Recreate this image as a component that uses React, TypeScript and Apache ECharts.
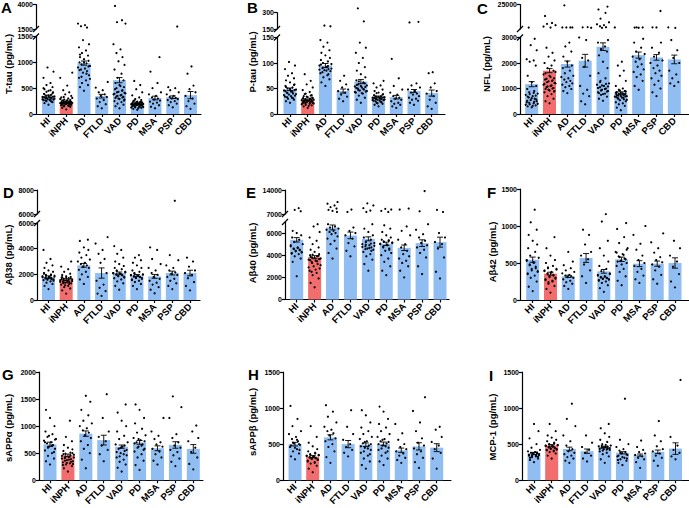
import { useEffect, useRef } from "react";
import * as echarts from "echarts";

const categories = ["HI", "iNPH", "AD", "FTLD", "VAD", "PD", "MSA", "PSP", "CBD"];

// ---------- A: T-tau ----------
const tTauMeans = [345, 225, 985, 345, 655, 215, 310, 325, 365];
const tTauSem = [20, 12, 40, 35, 50, 12, 35, 25, 70];
const tTauPoints = [
  [180, 210, 230, 250, 260, 270, 280, 290, 300, 310, 320, 330, 340, 350, 370, 390, 420, 450, 480, 520, 560, 600, 700, 820, 900, 240, 260, 275, 285, 295, 305, 315, 325, 335, 360, 380, 400, 430, 460, 500],
  [90, 120, 140, 150, 160, 170, 180, 190, 195, 200, 205, 210, 215, 220, 225, 230, 240, 250, 260, 270, 280, 300, 320, 350, 380, 420, 460, 550, 700, 800, 155, 165, 175, 185, 198, 202, 208, 212, 218, 222, 228, 235, 245, 255, 265, 290, 310, 330],
  [450, 520, 560, 600, 650, 700, 750, 800, 830, 860, 880, 900, 930, 960, 980, 1000, 1030, 1060, 1100, 1130, 1180, 1230, 1290, 1350, 1430, 1650, 1780, 1900, 2050, 680, 720, 780, 850, 920, 1000, 1150],
  [110, 150, 190, 230, 270, 300, 330, 350, 380, 420, 460, 510, 620],
  [110, 150, 180, 200, 230, 250, 280, 300, 320, 340, 360, 380, 400, 420, 450, 480, 520, 560, 600, 650, 700, 780, 860, 950, 1020, 1100, 1180, 1250, 1350, 2050, 2200, 2400, 3850, 260, 290, 310, 330, 350, 370, 390, 410, 430, 460, 500, 540],
  [80, 100, 120, 130, 140, 150, 160, 170, 175, 180, 185, 190, 195, 200, 210, 220, 230, 240, 250, 270, 290, 320, 360, 420, 480, 560, 640, 110, 125, 135, 145, 155, 165, 172, 178, 182, 188, 192, 198, 205, 215, 225, 235, 260],
  [110, 140, 170, 200, 220, 240, 260, 280, 300, 320, 350, 380, 420, 500, 600, 820, 1100],
  [130, 170, 200, 230, 250, 270, 290, 300, 310, 330, 350, 380, 420, 460, 500, 520, 1750],
  [100, 150, 200, 250, 300, 350, 420, 480, 550, 780, 920],
];
const tTauLowerTicks = [0, 500, 1000, 1500];
const tTauUpperTicks = [1500, 4000];

// ---------- B: P-tau ----------
const pTauMeans = [48.5, 28, 95, 45, 63.5, 34, 33, 45, 41];
const pTauSem = [2.5, 1.5, 4, 4, 4, 1.2, 3.5, 3, 6];
const pTauPoints = [
  [22, 25, 28, 30, 32, 34, 36, 38, 40, 42, 44, 46, 48, 50, 52, 55, 58, 62, 66, 70, 75, 80, 88, 95, 102, 31, 33, 35, 37, 39, 41, 43, 45, 47, 49, 53, 57],
  [12, 15, 17, 18, 20, 21, 22, 23, 24, 25, 26, 27, 28, 29, 30, 31, 32, 33, 35, 37, 40, 43, 47, 52, 58, 65, 78, 16, 19, 20.5, 21.5, 22.5, 23.5, 24.5, 25.5, 26.5, 27.5, 28.5, 29.5, 30.5, 31.5, 34, 36, 39],
  [55, 62, 68, 72, 76, 80, 84, 86, 88, 90, 92, 95, 98, 100, 103, 106, 110, 115, 120, 125, 132, 140, 145, 175, 182, 78, 82, 85, 87, 89, 91, 94, 97],
  [25, 30, 34, 38, 42, 45, 48, 52, 58, 65, 75],
  [22, 28, 32, 36, 40, 42, 44, 46, 48, 50, 52, 54, 56, 58, 62, 66, 72, 78, 85, 92, 100, 110, 120, 130, 140, 220, 340, 41, 43, 45, 47, 49, 51, 53, 55, 57, 60, 64],
  [15, 18, 20, 22, 24, 26, 27, 28, 29, 30, 31, 32, 33, 34, 35, 37, 39, 42, 45, 48, 52, 56, 60, 65, 21, 23, 25, 26.5, 27.5, 28.5, 29.5, 30.5, 31.5, 32.5, 33.5, 36, 38, 41],
  [12, 15, 18, 20, 22, 25, 28, 30, 32, 35, 38, 42, 48, 55, 70, 108],
  [18, 22, 26, 28, 30, 32, 35, 38, 40, 42, 45, 48, 52, 56, 60, 210, 216],
  [10, 15, 22, 28, 35, 40, 45, 52, 60, 80, 82],
];
const pTauLowerTicks = [0, 50, 100, 150];
const pTauUpperTicks = [150, 300];

// ---------- C: NFL ----------
const nflMeans = [1170, 1700, 1960, 2090, 2640, 820, 2310, 2220, 2140];
const nflSem = [100, 80, 120, 250, 150, 50, 120, 110, 170];
const nflPoints = [
  [260, 300, 340, 380, 420, 460, 500, 550, 600, 650, 700, 750, 800, 850, 900, 980, 1100, 1250, 1500, 1900, 2050, 2100, 2150, 2500, 2700, 2950, 4300, 320, 360, 400, 440, 480, 520, 570, 620, 680, 720, 780, 830],
  [420, 500, 600, 700, 780, 850, 900, 950, 1000, 1050, 1100, 1150, 1200, 1250, 1300, 1350, 1400, 1500, 1600, 1700, 1800, 1900, 2000, 2100, 2250, 2400, 2600, 4300, 5200, 6400, 7600, 8400, 14700, 880, 920, 980, 1020, 1080, 1120, 1180, 1220, 1280, 1320, 1380, 1450, 1550, 1650],
  [820, 900, 980, 1050, 1100, 1150, 1200, 1250, 1300, 1350, 1400, 1450, 1500, 1600, 1700, 1800, 1900, 2050, 2250, 2450, 2650, 2800, 4400, 4400, 4400, 4400, 24200],
  [380, 500, 700, 800, 950, 1100, 1500, 1850, 2100, 2200, 2900, 3000, 4100, 4500, 4700],
  [520, 600, 680, 750, 800, 850, 900, 950, 1000, 1050, 1100, 1150, 1200, 1300, 1400, 1600, 1800, 2050, 2300, 2450, 2550, 2650, 2800, 2900, 4100, 4600, 5400, 6500, 7200, 9000, 12300, 17500, 20500, 23100, 780, 820, 880, 920, 980, 1020, 1080, 1120, 1180, 1250],
  [150, 250, 320, 380, 420, 460, 500, 540, 580, 620, 650, 680, 700, 720, 750, 780, 800, 830, 860, 900, 950, 1000, 1100, 1300, 1500, 1700, 1900, 2050, 4400, 560, 600, 640, 660, 690, 710, 730, 760, 790, 810, 840, 880, 920],
  [950, 1100, 1300, 1450, 1550, 1650, 1750, 1850, 1950, 2050, 2150, 2250, 2350, 2450, 2600, 2800, 2950, 4100, 4300, 4400, 4500],
  [700, 850, 1000, 1150, 1300, 1400, 1500, 1600, 1700, 1800, 1900, 2000, 2100, 2250, 2400, 2600, 2800, 4400, 4500, 19200],
  [1100, 1200, 1250, 1400, 1550, 1700, 2000, 2200, 2500, 2900, 4000, 4500],
];
const nflLowerTicks = [0, 1000, 2000, 3000];
const nflUpperTicks = [25000];

// ---------- D: Abeta38 ----------
const ab38Means = [1790, 1580, 2700, 2100, 2100, 1920, 1840, 2100, 2100];
const ab38Sem = [90, 60, 150, 400, 80, 70, 150, 150, 220];
const ab38Points = [
  [850, 1100, 1250, 1350, 1450, 1550, 1600, 1650, 1700, 1750, 1800, 1850, 1900, 1950, 2000, 2100, 2200, 2300, 2500, 2700, 2900, 3200, 3900, 1500, 1580, 1620, 1680, 1720, 1780, 1820, 1880, 1920, 2050],
  [500, 750, 900, 1000, 1100, 1200, 1300, 1350, 1400, 1450, 1500, 1550, 1600, 1650, 1700, 1750, 1800, 1850, 1950, 2050, 2200, 2400, 2600, 3000, 1150, 1250, 1320, 1380, 1420, 1480, 1520, 1580, 1620, 1680, 1720, 1780],
  [1250, 1600, 1800, 2000, 2200, 2350, 2500, 2600, 2700, 2800, 2900, 3000, 3150, 3300, 3500, 3700, 3900, 4100, 4600, 4700],
  [320, 500, 700, 950, 1200, 1500, 2100, 2900, 3200, 3600, 3900, 4400, 4900],
  [800, 1100, 1300, 1450, 1600, 1700, 1800, 1900, 1950, 2000, 2050, 2100, 2200, 2300, 2400, 2500, 2650, 2800, 3000, 3300, 3600, 3900, 4200, 1750, 1850, 1920, 1980, 2020, 2080, 2150, 2250],
  [850, 1100, 1250, 1400, 1500, 1600, 1700, 1750, 1800, 1850, 1900, 1950, 2000, 2100, 2200, 2300, 2500, 2700, 2900, 3100, 3300, 3500, 1550, 1650, 1720, 1780, 1820, 1880, 1920, 1980, 2050],
  [520, 800, 1000, 1200, 1350, 1500, 1650, 1800, 1950, 2100, 2300, 2500, 2800, 3200, 3900, 4100],
  [850, 1100, 1300, 1500, 1650, 1800, 1950, 2050, 2150, 2300, 2500, 2700, 3100, 3500, 7100],
  [750, 1100, 1400, 1700, 1950, 2100, 2300, 2600, 3000, 3300],
];
const ab38LowerTicks = [0, 2000, 4000, 6000];
const ab38UpperTicks = [6000, 8000];

// ---------- E: Abeta40 ----------
const ab40Means = [5390, 3820, 6510, 5790, 5480, 5030, 4670, 5090, 5180];
const ab40Sem = [200, 140, 220, 300, 180, 150, 250, 300, 450];
const ab40Points = [
  [2100, 3400, 3700, 3900, 4100, 4200, 4300, 4400, 4500, 4600, 4700, 4800, 5000, 5200, 5400, 5600, 5800, 6000, 6200, 7800, 8200, 8700, 4150, 4250, 4350, 4450, 4550, 4650, 4900],
  [1100, 1500, 1900, 2200, 2400, 2600, 2800, 3000, 3200, 3400, 3500, 3600, 3700, 3800, 3900, 4000, 4100, 4300, 4500, 4700, 5000, 5300, 5600, 6100, 6600, 6800, 2500, 2700, 2900, 3100, 3300, 3450, 3550, 3650, 3750, 3850, 3950, 4050],
  [3700, 4200, 4600, 5000, 5300, 5500, 5700, 5900, 6000, 6100, 6200, 6300, 6400, 6500, 6600, 6800, 7600, 7900, 8200, 8600, 9000, 9500, 10000, 10500],
  [3900, 4400, 4800, 5100, 5500, 5800, 6000, 6200, 6500, 7600, 8300],
  [2600, 3200, 3600, 3900, 4100, 4300, 4500, 4600, 4700, 4800, 4900, 5000, 5100, 5200, 5400, 5600, 5800, 6100, 6400, 6800, 7600, 8000, 8700, 9500, 10100, 4400, 4550, 4650, 4750, 4850, 4950, 5050],
  [2200, 2600, 3000, 3400, 3700, 4000, 4200, 4400, 4600, 4800, 4900, 5000, 5100, 5200, 5300, 5400, 5600, 5800, 6100, 6400, 6700, 7600, 7900, 8300, 8500, 4500, 4700, 4950, 5050, 5150, 5250, 5350],
  [2000, 2600, 3000, 3300, 3500, 3700, 3900, 4100, 4400, 4700, 5000, 5400, 5800, 6200, 6600, 8300, 8600],
  [2300, 3000, 3800, 4200, 4500, 4700, 4900, 5100, 5300, 5600, 5900, 6300, 6800, 7800, 13700],
  [1900, 2500, 3800, 4600, 5000, 5200, 5600, 6000, 7600, 8200],
];
const ab40LowerTicks = [0, 2000, 4000, 6000];
const ab40UpperTicks = [7000, 14000];

// ---------- F: Abeta42 ----------
const ab42Means = [545, 356, 320, 568, 387, 550, 491, 491, 500];
const ab42Sem = [35, 20, 15, 60, 25, 30, 40, 35, 70];
const ab42Points = [
  [120, 180, 250, 300, 330, 360, 390, 420, 450, 480, 510, 540, 570, 600, 650, 700, 750, 800, 880, 950, 1050, 1220, 350, 380, 400, 430, 470, 500, 530],
  [100, 150, 190, 220, 250, 270, 290, 310, 330, 350, 370, 390, 410, 430, 460, 500, 540, 600, 700, 850, 240, 260, 280, 300, 320, 340, 360, 380, 400, 420, 440],
  [150, 190, 220, 240, 260, 280, 300, 310, 320, 330, 340, 360, 380, 400, 430, 470, 520, 650],
  [230, 320, 400, 480, 550, 600, 650, 750, 880, 950],
  [110, 160, 200, 230, 250, 270, 280, 290, 300, 310, 320, 340, 360, 390, 420, 460, 520, 600, 700, 800, 1060, 1160, 260, 275, 285, 295, 305, 315, 330, 350],
  [200, 260, 320, 380, 420, 460, 500, 530, 560, 590, 620, 650, 700, 770, 850, 960, 1040, 480, 520, 550, 580, 610, 640, 680],
  [230, 280, 330, 380, 420, 460, 500, 540, 600, 680, 760, 880, 1000],
  [220, 280, 340, 400, 450, 480, 510, 540, 580, 640, 700, 780, 900],
  [170, 250, 350, 450, 520, 600, 700, 800],
];
const ab42Ticks = [0, 500, 1000, 1500];

// ---------- G: sAPPalpha ----------
const sappaMeans = [663, 458, 861, 741, 620, 699, 590, 651, 578];
const sappaSem = [40, 25, 50, 90, 30, 35, 45, 60, 80];
const sappaPoints = [
  [290, 350, 400, 450, 500, 550, 580, 620, 650, 680, 700, 730, 760, 800, 850, 900, 1000, 1150, 1300, 520, 600, 640, 700, 750, 820],
  [160, 220, 260, 290, 310, 330, 350, 370, 390, 410, 430, 450, 470, 490, 510, 540, 570, 600, 650, 720, 800, 1100, 280, 300, 320, 340, 360, 380, 400, 420, 440, 460, 480, 500],
  [220, 380, 500, 580, 650, 720, 780, 830, 880, 920, 960, 1000, 1050, 1100, 1200, 1300, 1450, 1560],
  [350, 480, 560, 640, 720, 800, 900, 1150, 1590],
  [160, 230, 290, 340, 380, 420, 460, 500, 540, 580, 620, 660, 700, 760, 820, 900, 1000, 1100, 1250, 1400, 440, 480, 520, 560, 600, 640],
  [190, 280, 360, 420, 480, 530, 580, 620, 660, 700, 740, 780, 830, 880, 950, 1050, 1150, 1300, 1400, 560, 600, 640, 680, 720, 760],
  [290, 360, 420, 480, 530, 580, 620, 660, 700, 760, 820, 900, 1150],
  [260, 340, 400, 460, 520, 560, 600, 640, 700, 780, 850, 1150, 1350, 1550],
  [200, 300, 420, 520, 600, 720, 780, 900, 1010],
];
const sappaTicks = [0, 500, 1000, 1500, 2000];

// ---------- H: sAPPbeta ----------
const sappbMeans = [500, 326, 594, 500, 491, 504, 415, 469, 451];
const sappbSem = [25, 15, 35, 50, 25, 25, 30, 50, 55];
const sappbPoints = [
  [290, 330, 370, 400, 430, 460, 490, 510, 540, 570, 600, 640, 680, 750, 850, 1030, 420, 450, 480, 500, 520, 560],
  [110, 160, 200, 230, 250, 270, 290, 300, 310, 320, 330, 340, 350, 360, 380, 400, 430, 470, 520, 600, 750, 240, 260, 280, 295, 305, 315, 325, 335, 345, 355, 370],
  [240, 320, 400, 460, 500, 540, 580, 620, 650, 680, 700, 740, 800, 880, 950, 1040],
  [330, 380, 420, 460, 500, 560, 640, 740, 970],
  [160, 210, 260, 300, 340, 380, 420, 450, 480, 510, 540, 570, 600, 640, 680, 730, 800, 900, 970, 360, 400, 440, 470, 500, 530],
  [210, 260, 300, 340, 380, 420, 450, 480, 510, 540, 570, 600, 640, 680, 730, 780, 850, 950, 1020, 400, 440, 470, 500, 530, 560],
  [240, 280, 310, 340, 370, 400, 430, 460, 500, 560, 650, 780],
  [170, 250, 310, 360, 400, 440, 480, 520, 580, 680, 800, 960, 1150],
  [160, 300, 380, 430, 480, 530, 600, 700, 740],
];
const sappbTicks = [0, 500, 1000, 1500];

// ---------- I: MCP-1 ----------
const mcpMeans = [370, 482, 433, 402, 460, 380, 348, 393, 438];
const mcpSem = [15, 12, 25, 30, 12, 15, 15, 25, 80];
const mcpPoints = [
  [250, 280, 300, 320, 330, 340, 350, 360, 370, 380, 390, 400, 420, 450, 500, 580, 680, 780, 310, 325, 335, 345, 355, 365, 375, 385],
  [300, 340, 370, 390, 410, 420, 430, 440, 450, 460, 470, 480, 490, 500, 520, 540, 560, 590, 620, 680, 780, 400, 415, 425, 435, 445, 455, 465, 475, 485, 495, 510],
  [240, 270, 300, 320, 340, 360, 380, 400, 430, 480, 540, 620, 750, 850, 1060],
  [260, 300, 340, 380, 420, 460, 520, 620],
  [240, 290, 330, 360, 380, 400, 420, 430, 440, 450, 460, 470, 480, 500, 530, 560, 600, 650, 720, 780, 410, 425, 435, 445, 455, 465, 475, 490],
  [210, 240, 270, 290, 310, 330, 350, 370, 390, 410, 430, 460, 500, 560, 1130, 280, 300, 320, 340, 360, 380],
  [170, 250, 290, 310, 330, 350, 370, 390, 420, 460, 550],
  [200, 270, 310, 340, 370, 400, 430, 470, 540, 620, 820],
  [290, 330, 380, 420, 480, 600, 1390],
];
const mcpTicks = [0, 500, 1000, 1500];

// ---------- layout / style ----------
const BLUE = "#90BDF2";
const RED = "#F26E6E";
const FONT = "'Liberation Sans', Arial, sans-serif";
const JITTER = [0, -4, 4, -2, 2, -5, 5, -1, 3, -3, 1, -6, 6, -2.5, 2.5, -4.5, 4.5];
const IDX = [0, 1, 2, 3, 4, 5, 6, 7, 8];

type Upper = { min: number; max: number; ticks: number[]; top: number; bottom: number };
type Panel = {
  letter: string; lx: number; ly: number;
  name: string; nx: number; ny: number;
  means: number[]; sem: number[]; points: number[][];
  lowerMax: number; lowerTicks: number[];
  upper?: Upper;
  axisX: number; firstC: number; lastC: number; endX: number;
  top: number; bottom: number;
};

const PANELS: Panel[] = [
  { letter: "A", lx: 1, ly: 0, name: "T-tau (pg/mL)", nx: 8, ny: 64, means: tTauMeans, sem: tTauSem, points: tTauPoints,
    lowerMax: 1500, lowerTicks: tTauLowerTicks, upper: { min: 1500, max: 4000, ticks: tTauUpperTicks, top: 4.5, bottom: 29 },
    axisX: 36, firstC: 48.5, lastC: 190.5, endX: 201, top: 36.5, bottom: 114 },
  { letter: "B", lx: 247, ly: 0, name: "P-tau (pg/mL)", nx: 252, ny: 62, means: pTauMeans, sem: pTauSem, points: pTauPoints,
    lowerMax: 150, lowerTicks: pTauLowerTicks, upper: { min: 150, max: 300, ticks: pTauUpperTicks, top: 12.7, bottom: 29 },
    axisX: 277, firstC: 290, lastC: 431.7, endX: 445, top: 37.5, bottom: 114 },
  { letter: "C", lx: 477, ly: 1, name: "NFL (pg/mL)", nx: 486, ny: 64, means: nflMeans, sem: nflSem, points: nflPoints,
    lowerMax: 3000, lowerTicks: nflLowerTicks, upper: { min: 3000, max: 25000, ticks: nflUpperTicks, top: 4.5, bottom: 29 },
    axisX: 520, firstC: 531.7, lastC: 674.3, endX: 689, top: 37.5, bottom: 114 },
  { letter: "D", lx: 3, ly: 185, name: "Aβ38 (pg/mL)", nx: 8, ny: 255, means: ab38Means, sem: ab38Sem, points: ab38Points,
    lowerMax: 6000, lowerTicks: ab38LowerTicks, upper: { min: 6000, max: 8000, ticks: ab38UpperTicks, top: 190, bottom: 214 },
    axisX: 37, firstC: 48.5, lastC: 190, endX: 200, top: 223, bottom: 300 },
  { letter: "E", lx: 246, ly: 185, name: "Aβ40 (pg/mL)", nx: 252, ny: 253, means: ab40Means, sem: ab40Sem, points: ab40Points,
    lowerMax: 7000, lowerTicks: ab40LowerTicks, upper: { min: 7000, max: 14000, ticks: ab40UpperTicks, top: 190, bottom: 214 },
    axisX: 285, firstC: 296.7, lastC: 440, endX: 449, top: 222, bottom: 299.5 },
  { letter: "F", lx: 487, ly: 185, name: "Aβ42 (pg/mL)", nx: 492, ny: 252, means: ab42Means, sem: ab42Sem, points: ab42Points,
    lowerMax: 1500, lowerTicks: ab42Ticks,
    axisX: 520, firstC: 532.7, lastC: 675, endX: 689, top: 189, bottom: 300 },
  { letter: "G", lx: 2, ly: 367, name: "sAPPα (pg/mL)", nx: 8, ny: 428, means: sappaMeans, sem: sappaSem, points: sappaPoints,
    lowerMax: 2000, lowerTicks: sappaTicks,
    axisX: 39, firstC: 50, lastC: 193.3, endX: 203, top: 372, bottom: 483 },
  { letter: "H", lx: 248, ly: 367, name: "sAPPβ (pg/mL)", nx: 252, ny: 422, means: sappbMeans, sem: sappbSem, points: sappbPoints,
    lowerMax: 1500, lowerTicks: sappbTicks,
    axisX: 283, firstC: 295, lastC: 436.7, endX: 451, top: 372, bottom: 483 },
  { letter: "I", lx: 489, ly: 368, name: "MCP-1 (pg/mL)", nx: 492, ny: 427, means: mcpMeans, sem: mcpSem, points: mcpPoints,
    lowerMax: 1500, lowerTicks: mcpTicks,
    axisX: 522, firstC: 534, lastC: 675.5, endX: 689, top: 372, bottom: 483 },
];

const axisLineStyle = { color: "#000", width: 1.2 };

function dotRender(_params: any, api: any) {
  const c = api.coord([api.value(0), api.value(1)]);
  const k = api.value(2);
  return {
    type: "circle",
    shape: { cx: c[0] + JITTER[k % JITTER.length], cy: c[1], r: 1.1 },
    style: { fill: "#000" },
  };
}

function errRender(_params: any, api: any) {
  const i = api.value(0);
  const m = api.value(1);
  const s = api.value(2);
  const t = api.coord([i, m + s]);
  const b = api.coord([i, m - s]);
  const st = { stroke: "#000", lineWidth: 0.9 };
  return {
    type: "group",
    children: [
      { type: "line", shape: { x1: t[0], y1: t[1], x2: b[0], y2: b[1] }, style: st },
      { type: "line", shape: { x1: t[0] - 3, y1: t[1], x2: t[0] + 3, y2: t[1] }, style: st },
      { type: "line", shape: { x1: b[0] - 3, y1: b[1], x2: b[0] + 3, y2: b[1] }, style: st },
    ],
  };
}

function buildOption() {
  const grid: any[] = [];
  const xAxis: any[] = [];
  const yAxis: any[] = [];
  const series: any[] = [];
  const graphic: any[] = [];

  PANELS.forEach((p) => {
    const s = (p.lastC - p.firstC) / 8;
    const xmin = -(p.firstC - p.axisX) / s;
    const xmax = 8 + (p.endX - p.lastC) / s;
    const brk = p.upper ? p.upper.min : Infinity;
    const flat = p.points.flatMap((arr, i) => arr.map((v, k) => [i, v, k]));

    const addGrid = (top: number, bottom: number, showX: boolean, ymin: number, ymax: number, ticks: number[]) => {
      const gi = grid.length;
      grid.push({ left: p.axisX, top, width: p.endX - p.axisX, height: bottom - top });
      xAxis.push({
        type: "value", gridIndex: gi, min: xmin, max: xmax, show: showX,
        axisLine: { show: true, onZero: false, lineStyle: axisLineStyle },
        axisTick: { show: true, customValues: IDX, length: 3, lineStyle: axisLineStyle },
        axisLabel: {
          customValues: IDX, formatter: (v: number) => categories[Math.round(v)] ?? "",
          rotate: 45, margin: 5, color: "#000", fontWeight: "bold", fontSize: 9.5, fontFamily: FONT,
        },
        splitLine: { show: false },
      });
      yAxis.push({
        type: "value", gridIndex: gi, min: ymin, max: ymax,
        axisLine: { show: true, onZero: false, lineStyle: axisLineStyle },
        axisTick: { show: true, customValues: ticks, length: 3, lineStyle: axisLineStyle },
        axisLabel: {
          customValues: ticks, formatter: (v: number) => String(v),
          margin: 3, color: "#000", fontWeight: "bold", fontSize: 7, fontFamily: FONT,
        },
        splitLine: { show: false },
      });
      return gi;
    };

    const lg = addGrid(p.top, p.bottom, true, 0, p.lowerMax, p.lowerTicks);
    series.push({
      type: "bar", xAxisIndex: lg, yAxisIndex: lg, barWidth: 13, silent: true,
      data: p.means.map((m, i) => ({ value: [i, m], itemStyle: { color: i === 1 ? RED : BLUE } })),
    });
    series.push({
      type: "custom", xAxisIndex: lg, yAxisIndex: lg, silent: true, clip: false, z: 3,
      renderItem: dotRender, data: flat.filter((d) => d[1] <= brk),
    });
    series.push({
      type: "custom", xAxisIndex: lg, yAxisIndex: lg, silent: true, clip: false, z: 4,
      renderItem: errRender, data: p.means.map((m, i) => [i, m, p.sem[i]]),
    });

    if (p.upper) {
      const u = p.upper;
      const ug = addGrid(u.top, u.bottom, false, u.min, u.max, u.ticks);
      series.push({
        type: "custom", xAxisIndex: ug, yAxisIndex: ug, silent: true, clip: false, z: 3,
        renderItem: dotRender, data: flat.filter((d) => d[1] > brk),
      });
      [u.bottom, p.top].forEach((y) => {
        graphic.push({
          type: "line", silent: true,
          shape: { x1: p.axisX - 3, y1: y + 3, x2: p.axisX + 3, y2: y - 3 },
          style: { stroke: "#000", lineWidth: 1.2 },
        });
      });
    }

    graphic.push({
      type: "text", x: p.lx, y: p.ly, silent: true,
      style: { text: p.letter, fill: "#000", font: `bold 15px ${FONT}`, textAlign: "left", textVerticalAlign: "top" },
    });
    graphic.push({
      type: "text", x: p.nx, y: p.ny, rotation: Math.PI / 2, silent: true,
      style: { text: p.name, fill: "#000", font: `bold 9.5px ${FONT}`, textAlign: "center", textVerticalAlign: "middle" },
    });
  });

  return { animation: false, backgroundColor: "#fff", grid, xAxis, yAxis, series, graphic };
}

export default function App() {
  const ref = useRef<HTMLDivElement>(null);
  useEffect(() => {
    document.body.style.margin = "0";
    const chart = echarts.init(ref.current!, null, { renderer: "svg" });
    chart.setOption(buildOption() as any);
    return () => chart.dispose();
  }, []);
  return <div ref={ref} style={{ width: 689, height: 508 }} />;
}
